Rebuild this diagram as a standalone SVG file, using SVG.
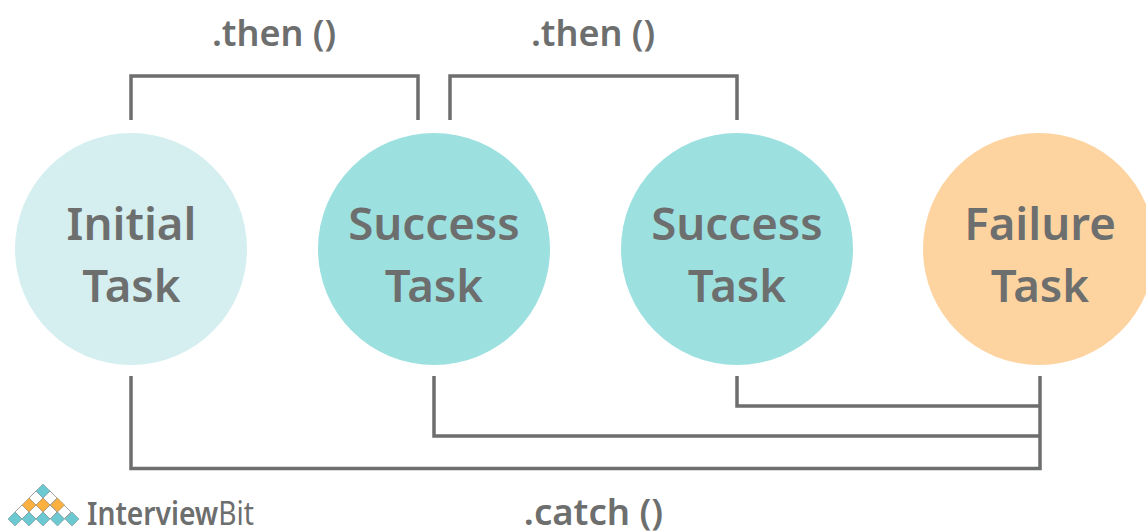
<svg xmlns="http://www.w3.org/2000/svg" width="1146" height="531" viewBox="0 0 1146 531">
<style>
text{font-family:"Noto Sans","Open Sans",sans-serif;font-weight:600;fill:#6d6e6e;text-anchor:middle}
.n{font-size:45.6px}
.l{font-size:36px}
.c{fill:none;stroke:#6d6e6e;stroke-width:3.5}
.t{fill:#6cc9d1;stroke:#7c9ea2;stroke-width:.7}.o{fill:#fbb040;stroke:#a89a80;stroke-width:.7}.w{fill:#fff;stroke:#8a8a8a;stroke-width:.8}
</style>
<defs><path id="d" d="M0-7 7 0 0 7-7 0Z"/></defs>
<rect width="1146" height="531" fill="#fff"/>
<g id="connectors">
<path class="c" d="M131 120V76H418V120"/>
<path class="c" d="M450 120V76H737V120"/>
<path class="c" d="M131 376V468.500H1040V376"/>
<path class="c" d="M434 376V436H1040"/>
<path class="c" d="M737 376V406H1040"/>
</g>
<g id="initial"><circle cx="131" cy="249" r="116" fill="#d5eff0"/><text class="n" x="131.500" y="239.500">Initial</text><text class="n" x="131.500" y="301.500">Task</text></g>
<g id="success1"><circle cx="434" cy="249" r="116" fill="#9de0e0"/><text class="n" x="434" y="239.500">Success</text><text class="n" x="434" y="301.500">Task</text></g>
<g id="success2"><circle cx="737" cy="249" r="116" fill="#9de0e0"/><text class="n" x="737" y="239.500">Success</text><text class="n" x="737" y="301.500">Task</text></g>
<g id="failure"><circle cx="1039" cy="249" r="116" fill="#fdd3a0"/><text class="n" x="1040" y="239.500">Failure</text><text class="n" x="1040" y="301.500">Task</text></g>
<g id="labels">
<text class="l" x="274" y="46">.then ()</text>
<text class="l" x="593" y="46">.then ()</text>
<text class="l" x="593.500" y="525" style="font-size:36.500px">.catch ()</text>
</g>
<g id="logo">
<use href="#d" class="w" x="36" y="498"/><use href="#d" class="w" x="50" y="498"/>
<use href="#d" class="w" x="22" y="512"/><use href="#d" class="w" x="36" y="512"/><use href="#d" class="w" x="50" y="512"/><use href="#d" class="w" x="64" y="512"/>
<use href="#d" class="t" x="43" y="491"/>
<use href="#d" class="o" x="29" y="505"/><use href="#d" class="o" x="43" y="505"/><use href="#d" class="o" x="57.500" y="505"/>
<use href="#d" class="t" x="15" y="519"/><use href="#d" class="t" x="29" y="519"/><use href="#d" class="t" x="43" y="519"/><use href="#d" class="t" x="57.500" y="519"/><use href="#d" class="t" x="72" y="519"/>
<text x="87" y="525" style="text-anchor:start;font-size:33px;font-weight:600" textLength="167" lengthAdjust="spacingAndGlyphs">Interview<tspan font-weight="400">Bit</tspan></text>
</g>
</svg>
